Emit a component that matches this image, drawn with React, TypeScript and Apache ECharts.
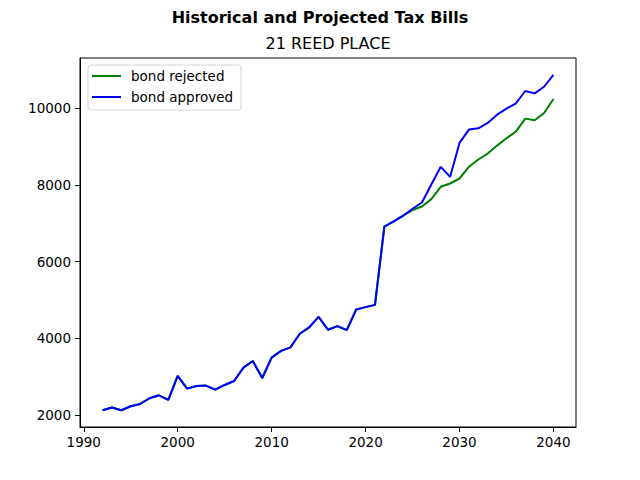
import React, { useRef, useEffect } from 'react';
import * as echarts from 'echarts';

const years = [
  1992, 1993, 1994, 1995, 1996, 1997, 1998, 1999, 2000, 2001,
  2002, 2003, 2004, 2005, 2006, 2007, 2008, 2009, 2010, 2011,
  2012, 2013, 2014, 2015, 2016, 2017, 2018, 2019, 2020, 2021,
  2022, 2023, 2024, 2025, 2026, 2027, 2028, 2029, 2030, 2031,
  2032, 2033, 2034, 2035, 2036, 2037, 2038, 2039, 2040,
];

const bondApproved = [
  2130, 2200, 2130, 2234, 2294, 2442, 2519, 2398, 3022, 2693,
  2762, 2771, 2667, 2788, 2892, 3238, 3411, 2970, 3500, 3675,
  3766, 4121, 4286, 4563, 4225, 4320, 4216, 4753, 4814, 4874,
  6909, 7047, 7195, 7377, 7540, 8007, 8468, 8208, 9091, 9437,
  9472, 9610, 9827, 9982, 10121, 10442, 10381, 10553, 10865,
];

const bondRejected = [
  2130, 2200, 2130, 2234, 2294, 2442, 2519, 2398, 3022, 2693,
  2762, 2771, 2667, 2788, 2892, 3238, 3411, 2970, 3500, 3675,
  3766, 4121, 4286, 4563, 4225, 4320, 4216, 4753, 4814, 4874,
  6909, 7047, 7195, 7343, 7436, 7626, 7948, 8034, 8164, 8468,
  8658, 8814, 9021, 9212, 9385, 9723, 9680, 9870, 10234,
];

const xTicks = [1990, 2000, 2010, 2020, 2030, 2040];
const yTicks = [2000, 4000, 6000, 8000, 10000];

const FONT = 'DejaVu Sans';

// matplotlib-style 5% auto margins
const pad = (lo: number, hi: number) => {
  const m = (hi - lo) * 0.05;
  return [lo - m, hi + m];
};

const App: React.FC = () => {
  const chartRef = useRef<HTMLDivElement>(null);

  useEffect(() => {
    if (!chartRef.current) return;
    const chart = echarts.init(chartRef.current, undefined, { renderer: 'svg' });

    const allVals = [...bondApproved, ...bondRejected];
    const [xMin, xMax] = pad(years[0], years[years.length - 1]);
    const [yMin, yMax] = pad(Math.min(...allVals), Math.max(...allVals));

    chart.setOption({
      animation: false,
      backgroundColor: '#ffffff',
      graphic: [
        {
          type: 'text',
          x: 320,
          y: 17,
          style: {
            text: 'Historical and Projected Tax Bills',
            textAlign: 'center',
            textVerticalAlign: 'middle',
            font: `bold 16px "${FONT}"`,
            fill: '#000',
          },
        },
        {
          type: 'text',
          x: 328,
          y: 43,
          style: {
            text: '21 REED PLACE',
            textAlign: 'center',
            textVerticalAlign: 'middle',
            font: `16px "${FONT}"`,
            fill: '#000',
          },
        },
      ],
      grid: {
        left: 80,
        right: 64,
        top: 58,
        bottom: 53,
        show: true,
        borderColor: '#000',
        borderWidth: 1,
        backgroundColor: 'transparent',
      },
      legend: {
        orient: 'vertical',
        left: 88,
        top: 65,
        padding: [4, 8, 6, 4],
        itemGap: 7,
        itemWidth: 29,
        itemHeight: 2,
        icon: 'rect',
        backgroundColor: '#fff',
        borderColor: '#d6d6d6',
        borderWidth: 1,
        borderRadius: 3,
        textStyle: {
          fontFamily: FONT,
          fontSize: 13.5,
          color: '#000',
          padding: [0, 0, 0, 5],
        },
        data: ['bond rejected', 'bond approved'],
      },
      xAxis: {
        type: 'value',
        min: xMin,
        max: xMax,
        splitLine: { show: false },
        axisLine: { show: true, lineStyle: { color: '#000', width: 1 } },
        axisTick: {
          show: true,
          customValues: xTicks,
          length: 5,
          lineStyle: { color: '#000' },
        },
        axisLabel: {
          customValues: xTicks,
          margin: 8,
          fontFamily: FONT,
          fontSize: 13.5,
          color: '#000',
          formatter: (v: number) => String(v),
        },
      },
      yAxis: {
        type: 'value',
        min: yMin,
        max: yMax,
        splitLine: { show: false },
        axisLine: { show: true, lineStyle: { color: '#000', width: 1 } },
        axisTick: {
          show: true,
          customValues: yTicks,
          length: 5,
          lineStyle: { color: '#000' },
        },
        axisLabel: {
          customValues: yTicks,
          margin: 9,
          fontFamily: FONT,
          fontSize: 13.5,
          color: '#000',
          formatter: (v: number) => String(v),
        },
      },
      series: [
        {
          name: 'bond rejected',
          type: 'line',
          data: years.map((y, i) => [y, bondRejected[i]]),
          showSymbol: false,
          symbol: 'none',
          lineStyle: { color: '#008000', width: 2 },
          itemStyle: { color: '#008000' },
        },
        {
          name: 'bond approved',
          type: 'line',
          data: years.map((y, i) => [y, bondApproved[i]]),
          showSymbol: false,
          symbol: 'none',
          lineStyle: { color: '#0000ff', width: 2 },
          itemStyle: { color: '#0000ff' },
        },
      ],
    });

    return () => {
      chart.dispose();
    };
  }, []);

  return (
    <div
      ref={chartRef}
      style={{ position: 'fixed', left: 0, top: 0, width: 640, height: 480, background: '#fff' }}
    />
  );
};

export default App;
